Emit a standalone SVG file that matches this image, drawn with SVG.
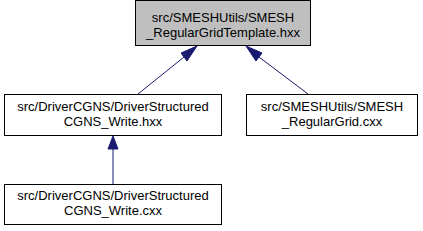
<svg xmlns="http://www.w3.org/2000/svg" width="423" height="231" viewBox="0 0 423 231">
<style>
.box{fill:#ffffff;stroke:#000000;stroke-width:1}
.cur{fill:#bfbfbf;stroke:#000000;stroke-width:1}
text{font-family:"Liberation Sans",Arial,sans-serif;font-size:13px;fill:#000000;text-anchor:middle}
.edge{stroke:#191970;stroke-width:1;fill:none}
.head{fill:#191970;stroke:#191970;stroke-width:1}
</style>
<rect width="423" height="231" fill="#ffffff"/>
<g id="connectors">
<path class="edge" d="M184,57 L138,94"/>
<polygon class="head" points="197,46 181,53 187,61"/>
<path class="edge" d="M259,57 L308,94"/>
<polygon class="head" points="246,46 256,61 262,53"/>
<path class="edge" d="M113,149 L113,185"/>
<polygon class="head" points="113,136 108,149 118,149"/>
</g>
<g id="node1">
<rect class="cur" x="135.5" y="0.5" width="175" height="45"/>
<text x="223" y="22">src/SMESHUtils/SMESH</text>
<text x="223" y="37">_RegularGridTemplate.hxx</text>
</g>
<g id="node2">
<rect class="box" x="4.5" y="94.5" width="217" height="41"/>
<text x="113" y="111">src/DriverCGNS/DriverStructured</text>
<text x="113" y="126">CGNS_Write.hxx</text>
</g>
<g id="node3">
<rect class="box" x="246.5" y="94.5" width="171" height="41"/>
<text x="332" y="111">src/SMESHUtils/SMESH</text>
<text x="332" y="126">_RegularGrid.cxx</text>
</g>
<g id="node4">
<rect class="box" x="4.5" y="184.5" width="217" height="40"/>
<text x="113" y="200">src/DriverCGNS/DriverStructured</text>
<text x="113" y="215">CGNS_Write.cxx</text>
</g>
</svg>
